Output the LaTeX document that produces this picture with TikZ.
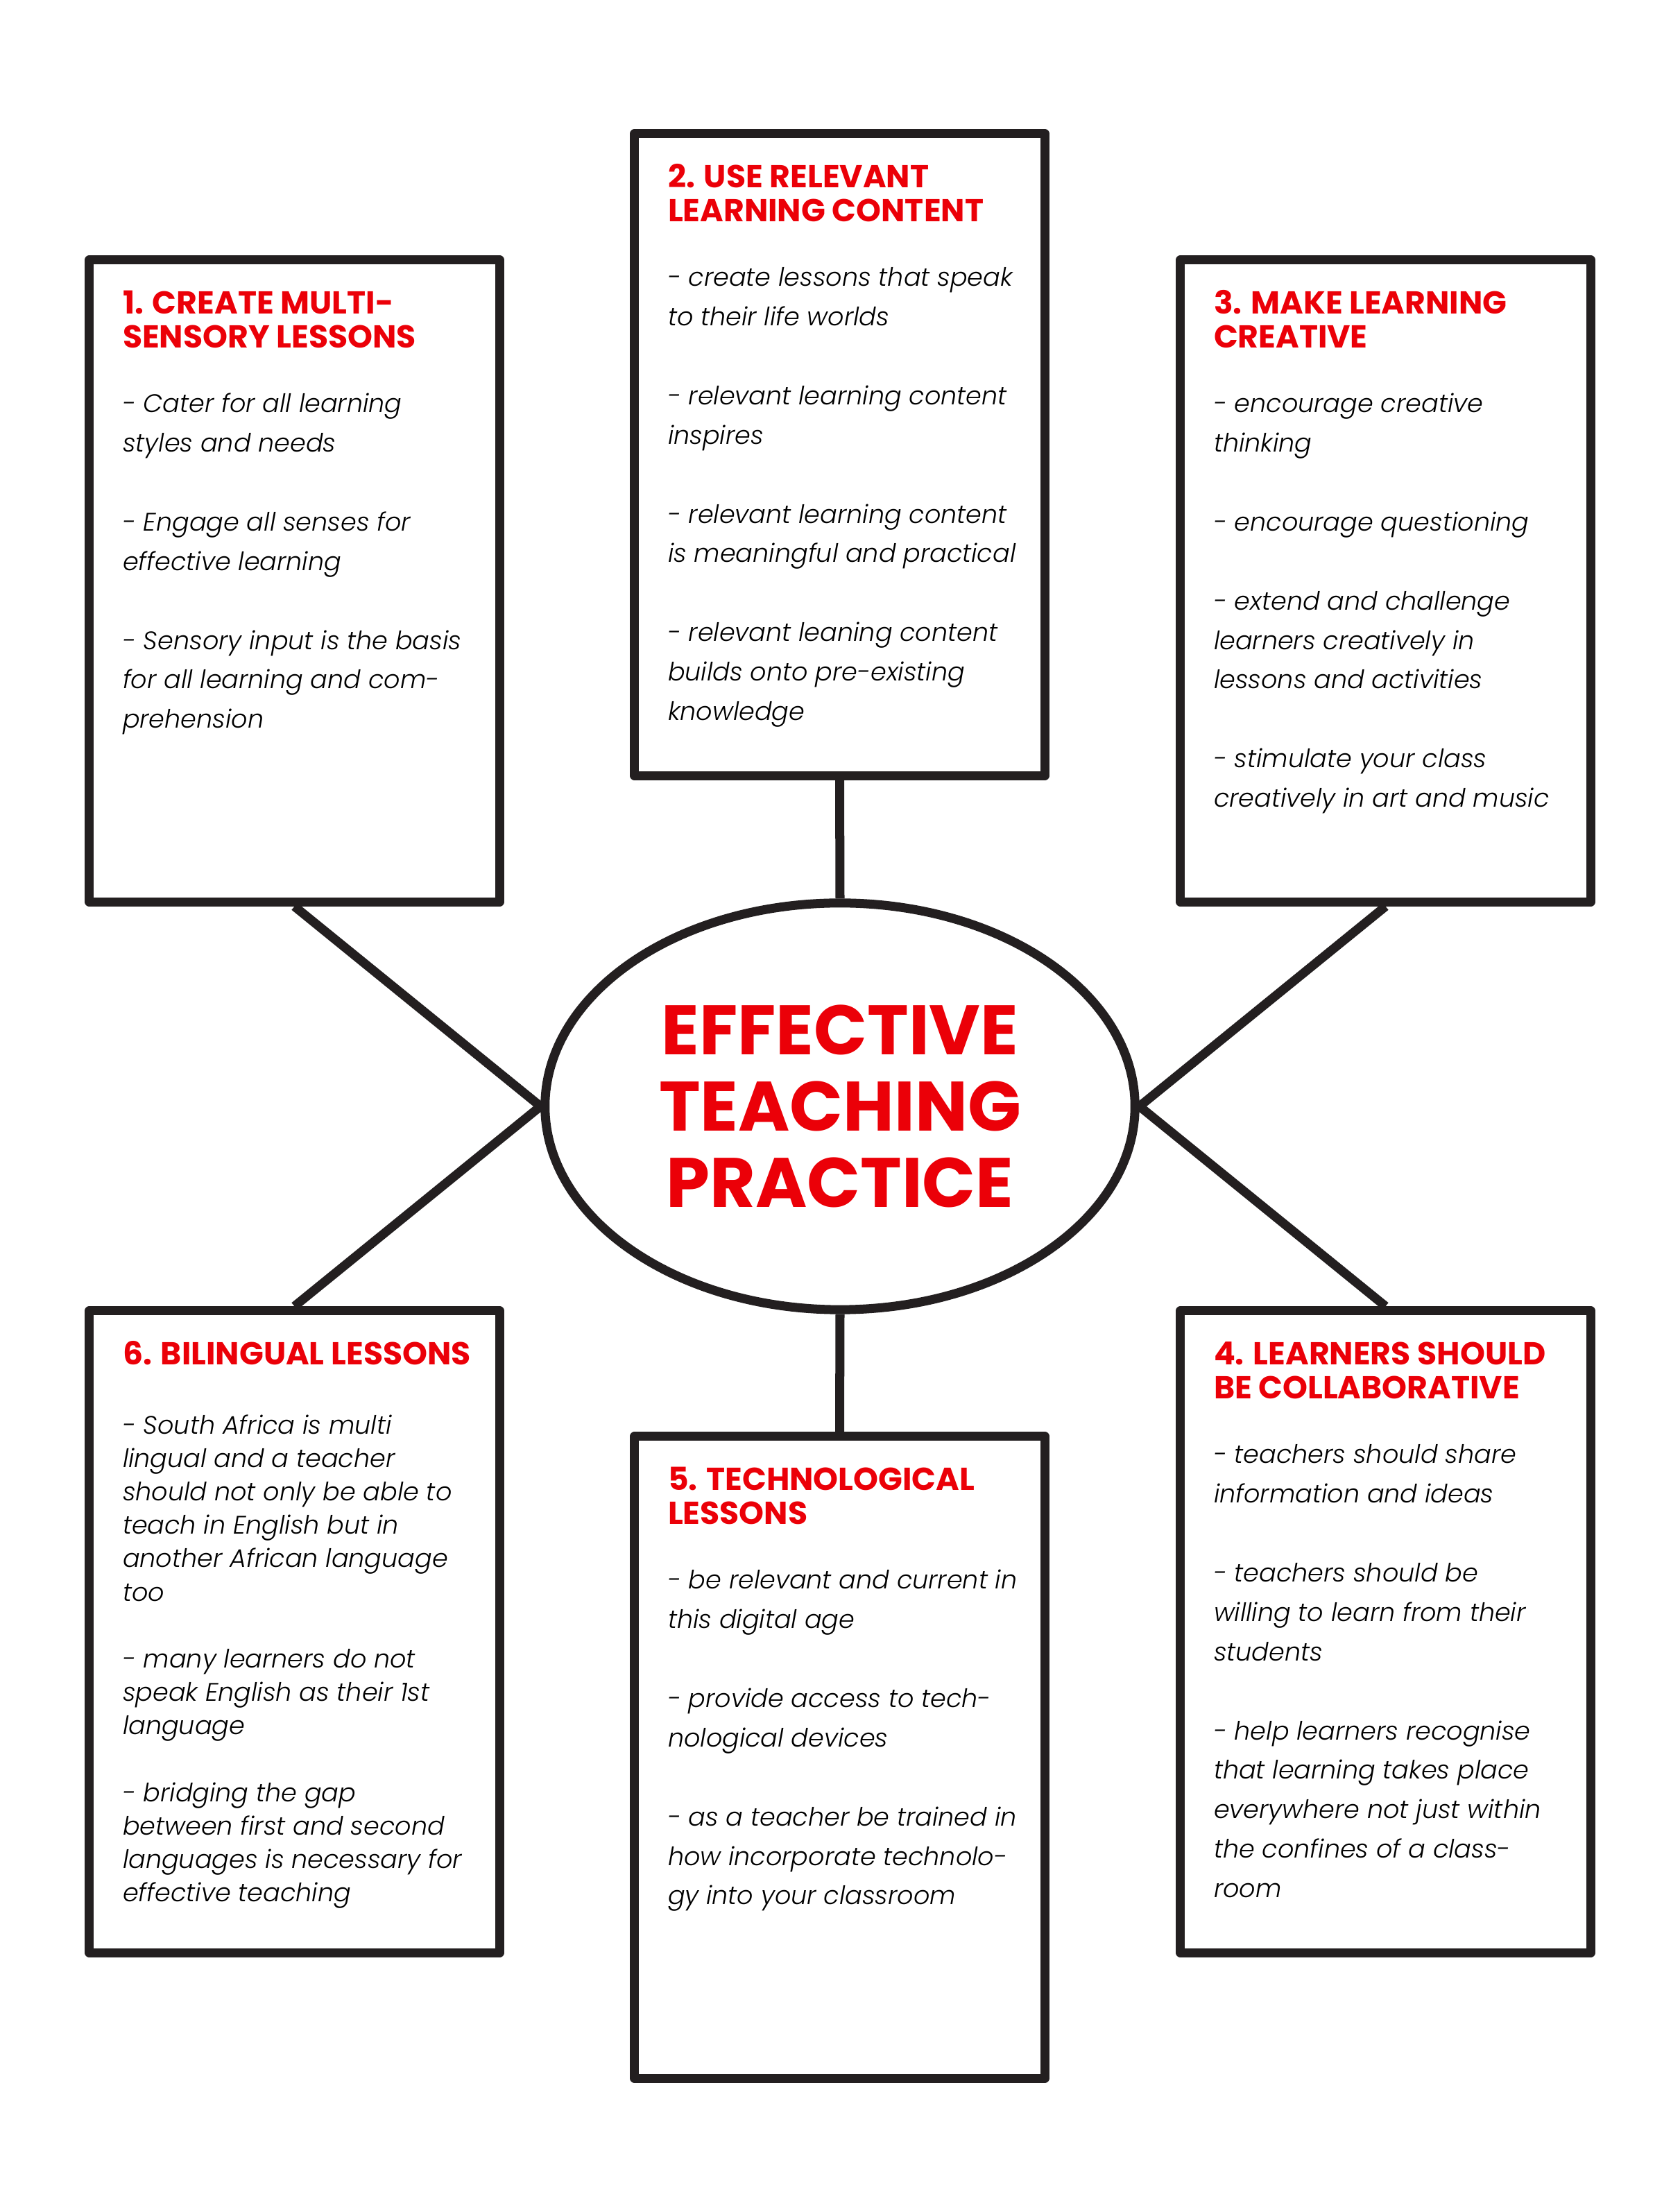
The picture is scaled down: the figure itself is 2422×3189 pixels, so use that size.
\documentclass[tikz,border=0pt]{standalone}
\usepackage{fontspec}
\setmainfont{Poppins}
\newfontfamily\bodyfont{Poppins Light Italic}
\usetikzlibrary{shapes.geometric,calc}
\definecolor{ink}{HTML}{231F20}
\definecolor{headred}{RGB}{235,0,8}
% lines of a box, baseline on the first line
\newcommand{\boxlines}[1]{\begin{tabular}[t]{@{}l@{}}#1\end{tabular}}
\begin{document}
\begin{tikzpicture}[x=0.01cm,y=0.01cm,
  panel/.style={draw=ink,line width=3.7pt,line join=round,fill=white,minimum width=5.91cm,minimum height=9.25cm,inner sep=0pt},
  link/.style={draw=ink,line width=3.7pt},
  head/.style={anchor=base west,inner sep=0pt,text=headred,font=\bfseries\fontsize{13}{13.9}\selectfont},
  body/.style={anchor=base west,inner sep=0pt,text=black,font=\bodyfont\fontsize{10.4}{16.2}\selectfont}]
\useasboundingbox (0,0) rectangle (2422,3189);
% hub and connectors
\node[ellipse,draw=ink,line width=3.7pt,minimum width=8.5cm,minimum height=5.86cm,inner sep=0pt,align=center,text=headred,font=\bfseries\fontsize{28.7}{31.2}\selectfont] (hub) at (1211,1594) {EFFECTIVE\\TEACHING\\PRACTICE};
\node[panel] (b1) at (424.5,2351.5) {};
\node[panel] (b2) at (1210.5,2533.5) {};
\node[panel] (b3) at (1997.5,2351.5) {};
\node[panel] (b4) at (1997.5,836.5) {};
\node[panel] (b5) at (1210.5,655.5) {};
\node[panel] (b6) at (424.5,836.5) {};
\draw[link] (b1.south) -- (hub.west) -- (b6.north);
\draw[link] (b3.south) -- (hub.east) -- (b4.north);
\draw[link] (b2.south) -- (hub.north);
\draw[link] (hub.south) -- (b5.north);
% 1
\node[head] (h1) at ($(b1.north west)+(54,-84)$) {\boxlines{1. CREATE MULTI-\\SENSORY LESSONS}};
\node[body] (t1) at ($(b1.north west)+(54,-226)$) {\boxlines{- Cater for all learning\\styles and needs\\ \\- Engage all senses for\\effective learning\\ \\- Sensory input is the basis\\for all learning and com-\\prehension}};
% 2
\node[head] (h2) at ($(b2.north west)+(54,-84)$) {\boxlines{2. USE RELEVANT\\LEARNING CONTENT}};
\node[body] (t2) at ($(b2.north west)+(54,-226)$) {\boxlines{- create lessons that speak\\to their life worlds\\ \\- relevant learning content\\inspires\\ \\- relevant learning content\\is meaningful and practical\\ \\- relevant leaning content\\builds onto pre-existing\\knowledge}};
% 3
\node[head] (h3) at ($(b3.north west)+(54,-84)$) {\boxlines{3. MAKE LEARNING\\CREATIVE}};
\node[body] (t3) at ($(b3.north west)+(54,-226)$) {\boxlines{- encourage creative\\thinking\\ \\- encourage questioning\\ \\- extend and challenge\\learners creatively in\\lessons and activities\\ \\- stimulate your class\\creatively in art and music}};
% 4
\node[head] (h4) at ($(b4.north west)+(54,-84)$) {\boxlines{4. LEARNERS SHOULD\\BE COLLABORATIVE}};
\node[body] (t4) at ($(b4.north west)+(54,-226)$) {\boxlines{- teachers should share\\information and ideas\\ \\- teachers should be\\willing to learn from their\\students\\ \\- help learners recognise\\that learning takes place\\everywhere not just within\\the confines of a class-\\room}};
% 5
\node[head] (h5) at ($(b5.north west)+(54,-84)$) {\boxlines{5. TECHNOLOGICAL\\LESSONS}};
\node[body] (t5) at ($(b5.north west)+(54,-226)$) {\boxlines{- be relevant and current in\\this digital age\\ \\- provide access to tech-\\nological devices\\ \\- as a teacher be trained in\\how incorporate technolo-\\gy into your classroom}};
% 6
\node[head] (h6) at ($(b6.north west)+(54,-84)$) {\boxlines{6. BILINGUAL LESSONS}};
\node[body,font=\bodyfont\fontsize{10.4}{13.7}\selectfont] (t6) at ($(b6.north west)+(54,-184)$) {\boxlines{- South Africa is multi\\lingual and a teacher\\should not only be able to\\teach in English but in\\another African language\\too\\ \\- many learners do not\\speak English as their 1st\\language\\ \\- bridging the gap\\between first and second\\languages is necessary for\\effective teaching}};
\end{tikzpicture}
\end{document}
